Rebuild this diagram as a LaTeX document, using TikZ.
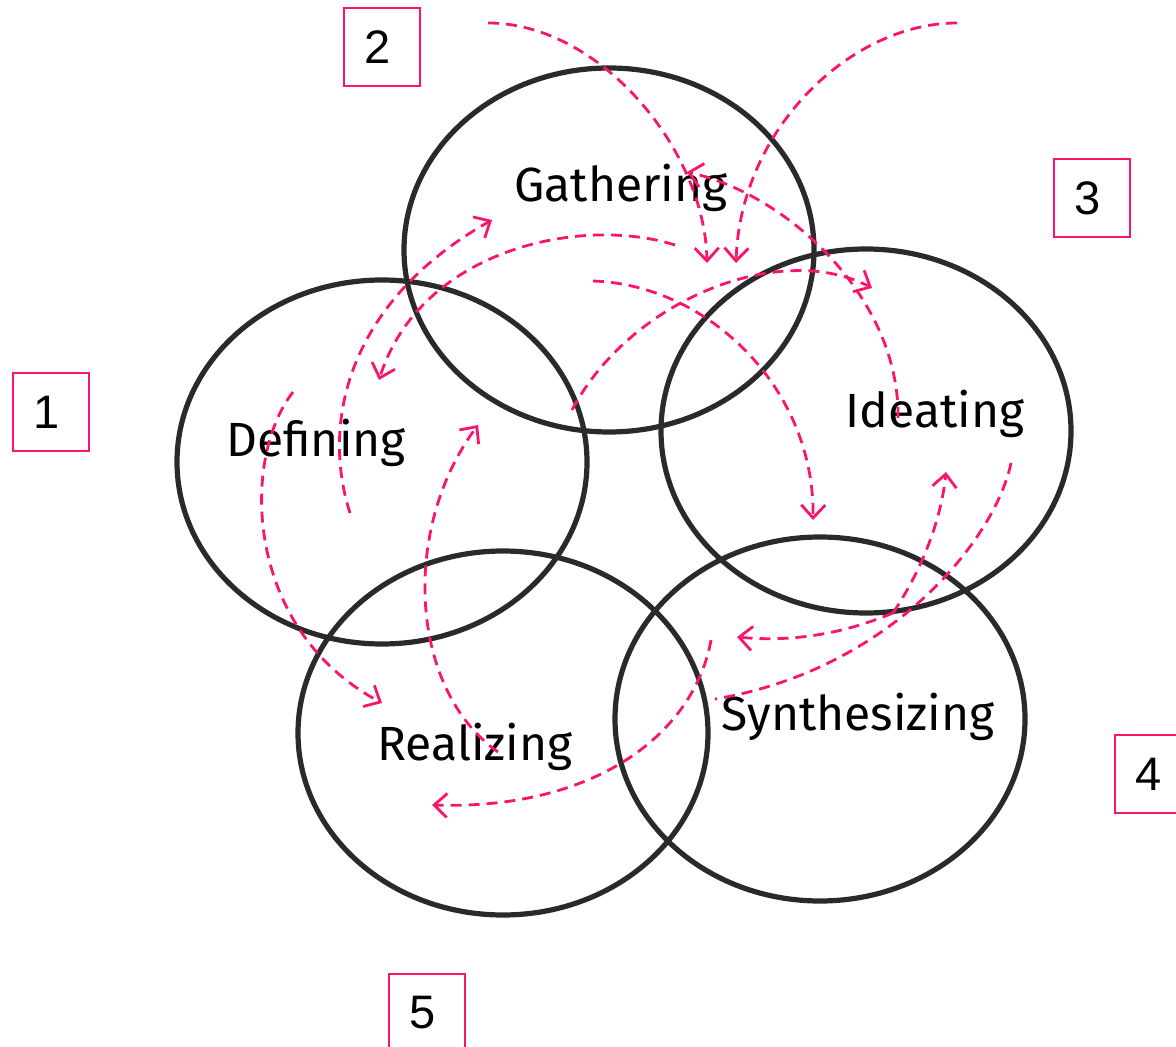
\documentclass[tikz,border=0pt]{standalone}
\usepackage{fontspec}
\setmainfont{Fira Sans}
\newfontfamily\numfont{Liberation Sans}
\usetikzlibrary{arrows.meta,shapes.geometric}
\definecolor{pinkc}{RGB}{250,20,110}
\definecolor{ringc}{RGB}{42,42,42}
\begin{document}
\begin{tikzpicture}[x=0.5pt,y=-0.5pt,
  ring/.style={draw=ringc,line width=2.6pt,ellipse,minimum width=205pt,minimum height=182pt,inner sep=0pt},
  lbl/.style={font=\fontsize{24}{28}\selectfont,anchor=base,inner sep=0pt},
  numbox/.style={draw=pinkc,line width=1pt,minimum width=38pt,minimum height=39pt,inner sep=0pt,font=\numfont\fontsize{23.5}{26}\selectfont},
  flowbase/.style={draw=pinkc,line width=1.4pt,dash pattern=on 5.5pt off 3.5pt},
  flow/.style={flowbase,-{Straight Barb[length=6.5pt,width=12pt]}}]
\useasboundingbox (0,0) rectangle (1176,1047);
\clip (0,0) rectangle (1176,1047);

% rings
\node[ring] (gath) at (609,250) {};
\node[ring] (defi) at (382,462) {};
\node[ring] (idea) at (866,431) {};
\node[ring] (synt) at (820,719) {};
\node[ring] (real) at (503,733) {};

% labels
\node[lbl] (lgath) at (621,202) {Gathering};
\node[lbl] (ldefi) at (316,457) {Defining};
\node[lbl] (lidea) at (935,428) {Ideating};
\node[lbl] (lsynt) at (858,730) {Synthesizing};
\node[lbl] (lreal) at (475,760) {Realizing};

% number boxes
\node[numbox] (n1) at (51,412) {\kern-4pt 1};
\node[numbox] (n2) at (382,47) {\kern-4pt 2};
\node[numbox] (n3) at (1092,198) {\kern-4pt 3};
\node[numbox] (n4) at (1153,774) {\kern-4pt 4};
\node[numbox] (n5) at (427,1013) {\kern-4pt 5};

% connector end points
\coordinate (a0) at (488,23);   \coordinate (a1) at (707,263);
\coordinate (b0) at (957,23);   \coordinate (b1) at (736,263);
\coordinate (c0) at (898,418);  \coordinate (c1) at (687,172);
\coordinate (d0) at (572,410);  \coordinate (d1) at (872,288);
\coordinate (e0) at (593,281);  \coordinate (e1) at (813,520);
\coordinate (f0) at (675,245);  \coordinate (f1) at (379,380);
\coordinate (g0) at (350,513);  \coordinate (g1) at (492,220);
\coordinate (h0) at (293,392);  \coordinate (h1) at (382,703);
\coordinate (i0) at (498,752);  \coordinate (i1) at (478,425);
\coordinate (j0) at (1011,463); \coordinate (j1) at (715,699);
\coordinate (k0) at (893,613);  \coordinate (k1) at (946,472);
\coordinate (k2) at (737,637);
\coordinate (l0) at (711,640);  \coordinate (l1) at (432,805);

% connectors
\draw[flow] (a0) .. controls (600,23) and (705,150) .. (a1);
\draw[flow] (b0) .. controls (850,23) and (740,130) .. (b1);
\draw[flow] (c0) .. controls (900,300) and (790,195) .. (c1);
\draw[flow] (d0) .. controls (630,300) and (780,240) .. (d1);
\draw[flow] (e0) .. controls (710,285) and (815,390) .. (e1);
\draw[flow] (f0) .. controls (580,215) and (420,250) .. (f1);
\draw[flow] (g0) .. controls (320,420) and (350,300) .. (g1);
\draw[flow] (h0) .. controls (240,460) and (245,630) .. (h1);
\draw[flow] (i0) .. controls (410,690) and (400,530) .. (i1);
\draw[flowbase] (j0) .. controls (995,540) and (890,670) .. (j1);
\draw[flow] (k0) .. controls (915,580) and (940,530) .. (k1);
\draw[flow] (k0) .. controls (840,635) and (790,642) .. (k2);
\draw[flow] (l0) .. controls (695,730) and (600,810) .. (l1);
\end{tikzpicture}
\end{document}
